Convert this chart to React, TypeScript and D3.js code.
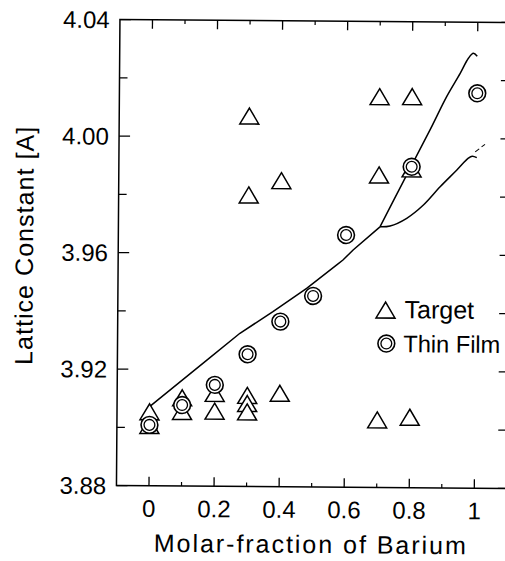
import React from "react";
import * as d3 from "d3";

const W = 505;
const H = 561;

// Target (triangles)
const targetX = [0, 0, 0.1, 0.1, 0.2, 0.2, 0.3, 0.3, 0.3, 0.3, 0.3, 0.4, 0.4, 0.7, 0.7, 0.7, 0.8, 0.8, 0.8];
const targetY = [3.9054, 3.9007, 3.9103, 3.9056, 3.9119, 3.9058, 4.0072, 3.9801, 3.9113, 3.9085, 3.9056, 3.9851, 3.9121, 4.0142, 3.9873, 3.9032, 4.0143, 3.9895, 3.9042];

// Thin Film (double circles)
const filmX = [0, 0.1, 0.2, 0.3, 0.4, 0.5, 0.6, 0.8, 1.0];
const filmY = [3.9009, 3.9078, 3.9148, 3.9254, 3.9367, 3.9456, 3.9666, 3.9902, 4.0156];

// Curves
const mainX = [0, 0.175, 0.276, 0.377, 0.48, 0.572, 0.591, 0.622, 0.704];
const mainY = [3.9072, 3.9233, 3.9326, 3.9401, 3.9482, 3.9563, 3.958, 3.9615, 3.9695];
const upperX = [0.704, 0.775, 0.856, 0.906, 0.947, 0.972, 0.987, 0.999];
const upperY = [3.9695, 3.9852, 4.003, 4.0144, 4.0224, 4.0276, 4.0293, 4.0283];
const lowerX = [0.704, 0.735, 0.786, 0.837, 0.888, 0.939, 0.974, 0.986, 1.0];
const lowerY = [3.9695, 3.9698, 3.9725, 3.9771, 3.9834, 3.9892, 3.9933, 3.994, 3.9935];
const dashX = [0.995, 1.025];
const dashY = [3.9955, 3.9981];

const xMajor = [0, 0.2, 0.4, 0.6, 0.8, 1];
const xMajorLabels = ["0", "0.2", "0.4", "0.6", "0.8", "1"];
const xMinor = [0.1, 0.3, 0.5, 0.7, 0.9];
const yMajor = [3.88, 3.92, 3.96, 4.0, 4.04];
const yMajorLabels = ["3.88", "3.92", "3.96", "4.00", "4.04"];
const yMinor = [3.9, 3.94, 3.98, 4.02];

const xLabel = "Molar-fraction of Barium";
const yLabel = "Lattice Constant [A]";
const legendLabels = ["Target", "Thin Film"];

const FONT = "'Liberation Sans', Arial, Helvetica, sans-serif";

function tri(cx: number, cy: number) {
  return `M${cx},${cy - 8}L${cx + 9.5},${cy + 8}L${cx - 9.5},${cy + 8}Z`;
}

export default function App() {
  const x = d3.scaleLinear().domain([-0.1, 1.1]).range([118.2, 508.6]);
  const y = d3.scaleLinear().domain([3.88, 4.04]).range([487, 21]);
  const x0 = x(-0.1), x1 = x(1.1), y0 = y(3.88), y1 = y(4.04);

  const line = d3.line<[number, number]>().x((d) => x(d[0])).y((d) => y(d[1]));
  const smooth = d3
    .line<[number, number]>()
    .x((d) => x(d[0]))
    .y((d) => y(d[1]))
    .curve(d3.curveCatmullRom.alpha(0.5));

  const mainPts = mainX.map((v, i) => [v, mainY[i]] as [number, number]);
  const upperPts = upperX.map((v, i) => [v, upperY[i]] as [number, number]);
  const lowerPts = lowerX.map((v, i) => [v, lowerY[i]] as [number, number]);
  const dashPts = dashX.map((v, i) => [v, dashY[i]] as [number, number]);

  const targets = targetX
    .map((v, i) => ({ x: v, y: targetY[i] }))
    .sort((a, b) => b.y - a.y);
  const films = filmX.map((v, i) => ({ x: v, y: filmY[i] }));

  const sw = 1.5;

  return (
    <svg
      width={W}
      height={H}
      style={{ position: "absolute", left: 0, top: 0, background: "#fff" }}
      fontFamily={FONT}
    >
      <rect x={0} y={0} width={W} height={H} fill="#fff" />
      <g transform="rotate(0.43, 313, 254)">
        {/* frame */}
        <path
          d={`M${x0},${y0}L${x0},${y1}L${x1},${y1}L${x1},${y0}Z`}
          fill="none"
          stroke="#000"
          strokeWidth={sw}
        />
        {/* x ticks bottom & top */}
        {xMajor.map((v) => (
          <g key={"xm" + v}>
            <line x1={x(v)} x2={x(v)} y1={y0} y2={y0 - 9} stroke="#000" strokeWidth={1.3} />
            <line x1={x(v)} x2={x(v)} y1={y1} y2={y1 + 9} stroke="#000" strokeWidth={1.3} />
          </g>
        ))}
        {xMinor.map((v) => (
          <g key={"xn" + v}>
            <line x1={x(v)} x2={x(v)} y1={y0} y2={y0 - 4} stroke="#000" strokeWidth={1.2} />
            <line x1={x(v)} x2={x(v)} y1={y1} y2={y1 + 4} stroke="#000" strokeWidth={1.2} />
          </g>
        ))}
        {/* y ticks left & right */}
        {yMajor.map((v) => (
          <g key={"ym" + v}>
            <line x1={x0} x2={x0 + 11} y1={y(v)} y2={y(v)} stroke="#000" strokeWidth={1.3} />
            <line x1={x1} x2={x1 - 9} y1={y(v)} y2={y(v)} stroke="#000" strokeWidth={1.3} />
          </g>
        ))}
        {yMinor.map((v) => (
          <g key={"yn" + v}>
            <line x1={x0} x2={x0 + 8} y1={y(v)} y2={y(v)} stroke="#000" strokeWidth={1.2} />
            <line x1={x1} x2={x1 - 9} y1={y(v)} y2={y(v)} stroke="#000" strokeWidth={1.2} />
          </g>
        ))}
        {/* tick labels */}
        {xMajor.map((v, i) => (
          <text key={"xl" + v} x={x(v)} y={518} textAnchor="middle" fontSize={24} fill="#000">
            {xMajorLabels[i]}
          </text>
        ))}
        {yMajor.map((v, i) => (
          <text
            key={"yl" + v}
            x={108}
            y={y(v)}
            dy="0.36em"
            textAnchor="end"
            fontSize={24}
            fill="#000"
          >
            {yMajorLabels[i]}
          </text>
        ))}
        {/* axis titles */}
        <text
          x={312 - 156}
          y={553}
          fontSize={25}
          fill="#000"
          textLength={312}
          lengthAdjust="spacing"
        >
          {xLabel}
        </text>
        <text
          transform="translate(33, 367) rotate(-90)"
          fontSize={25}
          fill="#000"
          textLength={238}
          lengthAdjust="spacing"
        >
          {yLabel}
        </text>

        {/* curves */}
        <path d={line(mainPts) || ""} fill="none" stroke="#000" strokeWidth={1.5} />
        <path d={smooth(upperPts) || ""} fill="none" stroke="#000" strokeWidth={1.5} />
        <path d={smooth(lowerPts) || ""} fill="none" stroke="#000" strokeWidth={1.5} />
        <path d={line(dashPts) || ""} fill="none" stroke="#000" strokeWidth={1} strokeDasharray="5,3" />

        {/* targets */}
        {targets.map((d, i) => (
          <path key={"t" + i} d={tri(x(d.x), y(d.y))} fill="#fff" stroke="#000" strokeWidth={1.5} strokeLinejoin="miter" />
        ))}
        {/* thin films */}
        {films.map((d, i) => (
          <g key={"f" + i}>
            <circle cx={x(d.x)} cy={y(d.y)} r={8.4} fill="#fff" stroke="#000" strokeWidth={1.6} />
            <circle cx={x(d.x)} cy={y(d.y)} r={5.4} fill="none" stroke="#000" strokeWidth={1.3} />
          </g>
        ))}

        {/* legend */}
        <path d={tri(386, 309.5)} fill="#fff" stroke="#000" strokeWidth={1.5} />
        <text x={405} y={317.5} fontSize={25} fill="#000">
          {legendLabels[0]}
        </text>
        <circle cx={387} cy={343} r={8.4} fill="#fff" stroke="#000" strokeWidth={1.6} />
        <circle cx={387} cy={343} r={5.4} fill="none" stroke="#000" strokeWidth={1.3} />
        <text x={404} y={351.5} fontSize={24} fill="#000" textLength={97} lengthAdjust="spacingAndGlyphs">
          {legendLabels[1]}
        </text>
      </g>
    </svg>
  );
}
